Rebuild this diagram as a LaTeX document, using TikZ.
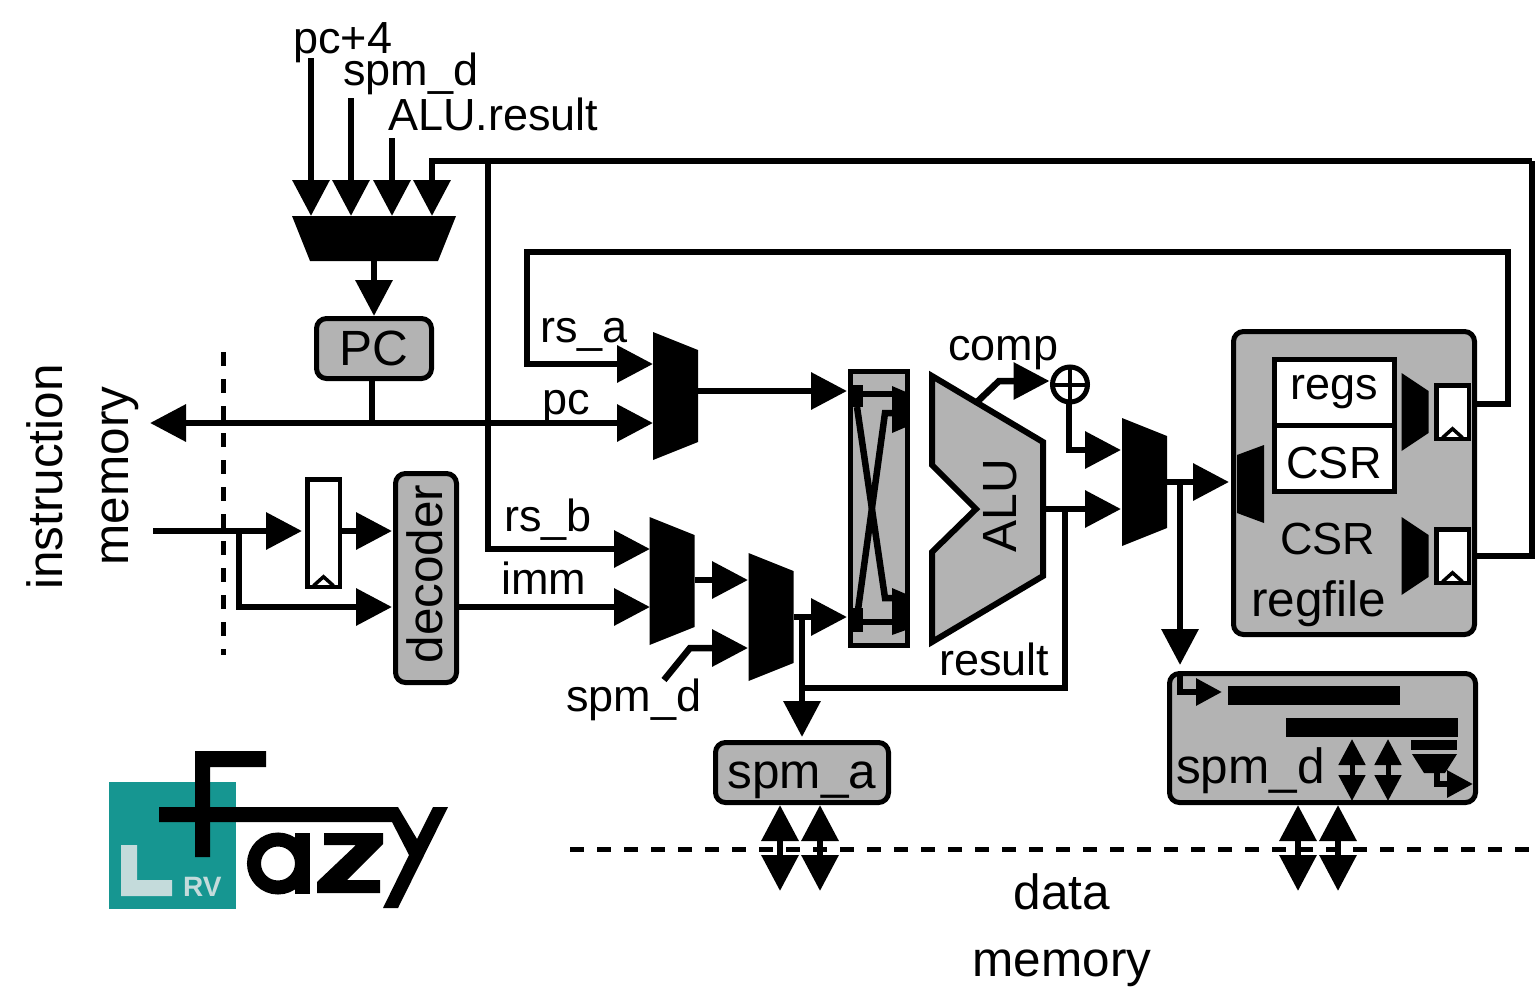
\documentclass[tikz,border=0pt]{standalone}
\usepackage{fontspec}
\setmainfont{Liberation Sans}
\usetikzlibrary{arrows.meta,positioning}
\definecolor{blockgray}{HTML}{B3B3B3}
\definecolor{logoteal}{HTML}{169691}
\definecolor{logopale}{HTML}{C4DBDB}

\begin{document}
\begin{tikzpicture}[x=1pt, y=-1pt,
    small/.style={anchor=base west, inner sep=0pt, font=\fontsize{45}{45}\selectfont},
    big/.style={anchor=base west, inner sep=0pt, font=\fontsize{49.5}{49.5}\selectfont},
    block/.style={rectangle, draw, line width=5pt, rounded corners=10pt, fill=blockgray, inner sep=0pt, font=\fontsize{49.5}{49.5}\selectfont},
    cell/.style={rectangle, draw, line width=5pt, fill=white, inner sep=0pt, minimum width=120pt, minimum height=66pt, font=\fontsize{45}{45}\selectfont},
    latch/.style={rectangle, draw, line width=4.5pt, fill=white, inner sep=0pt,
      path picture={\draw[line width=3.5pt] ([xshift=-10pt,yshift=1pt]path picture bounding box.south) -- ([yshift=10pt]path picture bounding box.south) -- ([xshift=10pt,yshift=1pt]path picture bounding box.south);}},
    muxright/.style={rectangle, inner sep=0pt, outer sep=0pt, minimum width=45pt, minimum height=128pt,
      path picture={\fill (path picture bounding box.north west) -- ([yshift=-18pt]path picture bounding box.north east) -- ([yshift=18pt]path picture bounding box.south east) -- (path picture bounding box.south west) -- cycle;}},
    muxthin/.style={muxright, minimum width=27pt, minimum height=78pt},
    muxleft/.style={rectangle, inner sep=0pt, outer sep=0pt, minimum width=27pt, minimum height=78pt,
      path picture={\fill (path picture bounding box.north east) -- ([yshift=-10pt]path picture bounding box.north west) -- ([yshift=10pt]path picture bounding box.south west) -- (path picture bounding box.south east) -- cycle;}},
    muxdown/.style={rectangle, inner sep=0pt, outer sep=0pt,
      path picture={\fill (path picture bounding box.north west) -- (path picture bounding box.north east) -- ([xshift=-#1]path picture bounding box.south east) -- ([xshift=#1]path picture bounding box.south west) -- cycle;}},
    wire/.style={line width=6.5pt},
    wirea/.style={wire, -{Triangle[length=36pt,width=36pt]}},
    wireb/.style={wire, {Triangle[length=36pt,width=36pt]}-{Triangle[length=36pt,width=36pt]}},
    wirec/.style={line width=6pt, -{Triangle[length=26pt,width=26pt]}},
    wired/.style={line width=5pt, {Triangle[length=26pt,width=26pt]}-{Triangle[length=26pt,width=26pt]}},
    cross/.style={line width=6.5pt},
    dashline/.style={line width=5pt, dash pattern=on 14pt off 13pt}]

\useasboundingbox (0,0) rectangle (1535,991);

% logo
\fill[logoteal] (109,782) rectangle (236,909);
\fill[logopale] (121,845) -- (137,845) -- (137,880) -- (172,880) -- (172,896) -- (121,896) -- cycle;
\node[anchor=base west, inner sep=0pt, text=logopale, font=\fontsize{28}{28}\selectfont\bfseries] (logorv) at (183,896) {RV};
\fill (195,751) -- (266,751) -- (266,767) -- (210,767) -- (210,857) -- (195,857) -- cycle;
\fill (159,807) -- (398,807) -- (417,839) -- (433,807) -- (448,807) -- (398,908) -- (383,908) -- (409,855) -- (392,822) -- (159,822) -- cycle;
\draw[line width=14pt] (278,863.5) circle (24);
\fill (295,833) rectangle (310,894);
\fill (324,833) -- (383,833) -- (383,844) -- (347,880) -- (380,880) -- (380,893) -- (317,893) -- (317,882) -- (356,845) -- (324,845) -- cycle;

% blocks
\node[muxdown=18pt, minimum width=164pt, minimum height=45pt] (muxpc) at (374,238.5) {};
\node[block, minimum width=115pt, minimum height=60pt] (pc) at (374,348.5) {PC};
\node[latch, minimum width=32.5pt, minimum height=107.5pt] (ireg) at (323.5,533) {};
\node[block, minimum width=61pt, minimum height=209pt] (dec) at (426,578) {};
\node[big, anchor=base, rotate=90] (ldec) at (442,574) {decoder};
\node[muxright] (muxa) at (675.5,396) {};
\node[muxright] (muxb) at (672,581) {};
\node[muxright] (muxc) at (771,617) {};
\node[muxright] (muxd) at (1144.5,482) {};

\node[rectangle, draw, line width=5pt, fill=blockgray, inner sep=0pt, minimum width=57pt, minimum height=274pt] (swap) at (879,508.5) {};
\fill (852,385) rectangle (863,407);
\fill (852,608) rectangle (863,632);
\draw[cross] (862,394) -- (892,394);
\draw[cross] (862,622) -- (892,622);
\draw[cross] (857,407) -- (885,598) -- (892,598);
\draw[cross] (858,610) -- (885,413) -- (892,413);
\fill (892,386) -- (906,392) -- (906,427) -- (892,433) -- cycle;
\fill (892,588) -- (906,594) -- (906,630) -- (892,635) -- cycle;

\draw[line width=6pt, fill=blockgray] (932,376) -- (1043,442) -- (1043,576) -- (932,642) -- (932,552) -- (976,509) -- (932,465) -- cycle;
\node[rotate=90, inner sep=0pt, font=\fontsize{48}{48}\selectfont] (alu) at (1000,505.5) {ALU};
\node[circle, draw, line width=5pt, inner sep=0pt, outer sep=0pt, minimum size=35pt] (xor) at (1070,384.5) {};
\draw[line width=4pt] (xor.north) -- (xor.south);
\draw[line width=4pt] (xor.west) -- (xor.east);

\node[block, minimum width=241pt, minimum height=303pt] (regfile) at (1354,483) {};
\node[cell] (regs) at (1334,392.5) {regs\hspace{3pt}};
\node[cell, text height=40pt, text depth=0pt] (csr) at (1334,458) {CSR\hspace{3pt}};
\node[muxleft] (muxw) at (1250.5,484) {};
\node[muxthin] (muxra) at (1415,412) {};
\node[muxthin] (muxrb) at (1415,556) {};
\node[latch, minimum width=32.5pt, minimum height=53.5pt] (rega) at (1452.5,412) {};
\node[latch, minimum width=32.5pt, minimum height=53.5pt] (regb) at (1452.5,556) {};

\node[block, minimum width=173pt, minimum height=60pt, text height=36pt, text depth=5pt] (spma) at (802,772.5) {spm\_a\hspace{3pt}};
\node[block, minimum width=306pt, minimum height=129pt] (spmd) at (1322.5,738) {};
\fill (1228,686) rectangle (1400,705);
\fill (1286,718) rectangle (1458,737);
\fill (1411,740) rectangle (1457,750);
\node[muxdown=12pt, minimum width=45pt, minimum height=19pt] (muxs) at (1434.5,763.5) {};

% labels
\node[small] (lpc) at (293,53) {pc+4};
\node[small] (lsd) at (343,85) {spm\_d};
\node[small] (lres) at (388,130) {ALU.result};
\node[small] (lrsa) at (540,342) {rs\_a};
\node[small] (lpcb) at (542,414) {pc};
\node[small] (lrsb) at (504,531) {rs\_b};
\node[small] (limm) at (501,594) {imm};
\node[small] (lsdb) at (566,711) {spm\_d};
\node[small] (lcomp) at (948,360) {comp};
\node[small] (lresb) at (939,675) {result};
\node[small] (lcsr) at (1280,554) {CSR};
\node[big] (lreg) at (1251,616) {regfile};
\node[big] (lsdc) at (1176,783) {spm\_d};
\node[big, anchor=base] (ldata) at (1062,909) {data};
\node[big, anchor=base] (lmem) at (1062,976) {memory};
\node[big, anchor=base, rotate=90] (linst) at (62,477) {instruction};
\node[big, anchor=base, rotate=90] (lmemb) at (128,476) {memory};

% free ends
\coordinate (inpc) at (311,58);
\coordinate (insd) at (351,98);
\coordinate (inres) at (392,138);
\coordinate (topbus) at (432,161);
\coordinate (topend) at (1532,161);
\coordinate (rsbtap) at (488,161);
\coordinate (rsbin) at (650,549);
\coordinate (immin) at (650,607);
\coordinate (loopa) at (527,252);
\coordinate (loopb) at (1508,252);
\coordinate (loopout) at (1508,404);
\coordinate (rsain) at (653,364);
\coordinate (pcin) at (653,423);
\coordinate (pctap) at (372,423);
\coordinate (imem) at (150,423);
\coordinate (dashtop) at (223,352);
\coordinate (dashbot) at (223,655);
\coordinate (instr) at (153,531);
\coordinate (insttap) at (239,531);
\coordinate (decin) at (239,607);
\coordinate (swapa) at (847,391);
\coordinate (swapb) at (847,617);
\coordinate (sdstart) at (664,680);
\coordinate (sdbend) at (690,648);
\coordinate (sdend) at (748,648);
\coordinate (mcin) at (748,580);
\coordinate (spmtap) at (802,617);
\coordinate (restap) at (1065,509);
\coordinate (resbot) at (1065,688);
\coordinate (spmbot) at (802,688);
\coordinate (aluout) at (1045,509);
\coordinate (mdinb) at (1121,509);
\coordinate (mdina) at (1121,450);
\coordinate (xorbot) at (1069,450);
\coordinate (cmpa) at (977,402);
\coordinate (cmpb) at (999,381);
\coordinate (mdout) at (1180,482);
\coordinate (dmemtop) at (570,849);
\coordinate (dmemend) at (1535,849);

% wires
\draw[wirea] (inpc) -- (inpc |- muxpc.north);
\draw[wirea] (insd) -- (insd |- muxpc.north);
\draw[wirea] (inres) -- (inres |- muxpc.north);
\draw[wirea] (topend) -- (topbus) -- (topbus |- muxpc.north);
\draw[wire] (regb.east -| regfile.east) -- (topend |- regb.east) -- (topend);
\draw[wirea] (rsbtap) -- (rsbtap |- rsbin) -- (rsbin);
\draw[wirea] (muxpc.south) -- (pc.north);
\draw[wirea] (loopout -| regfile.east) -- (loopout) -- (loopb) -- (loopa) -- (loopa |- rsain) -- (rsain);
\draw[wire] (pc.south -| pctap) -- (pctap);
\draw[wirea] (pctap) -- (imem);
\draw[wirea] (pctap) -- (pcin);
\draw[dashline] (dashtop) -- (dashbot);
\draw[wirea, shorten >=3pt] (instr) -- (instr -| ireg.west);
\draw[wirea, shorten >=1pt] (ireg.east |- instr) -- (dec.west |- instr);
\draw[wirea, shorten >=1pt] (insttap) -- (decin) -- (dec.west |- decin);
\draw[wirea] (dec.east |- immin) -- (immin);
\draw[wirea] (muxa.east |- swapa) -- (swapa);
\draw[wirea] (muxb.east |- mcin) -- (mcin);
\draw[wirea] (sdstart) -- (sdbend) -- (sdend);
\draw[wirea] (muxc.east |- swapb) -- (swapb);
\draw[wirea, shorten >=3pt] (spmtap) -- (spma.north -| spmtap);
\draw[wire] (spmbot) -- (resbot) -- (restap);
\draw[wirea] (aluout) -- (mdinb);
\draw[wirea, shorten >=3pt] (cmpa) -- (cmpb) -- (xor.west |- cmpb);
\draw[wirea] (xor.south -| xorbot) -- (xorbot) -- (mdina);
\draw[wirea, shorten >=2pt] (muxd.east) -- (regfile.west |- muxd.east);
\draw[wirea, shorten >=6pt] (mdout) -- (mdout |- spmd.north);
\draw[wirec] (1180,675) -- (1180,692) -- (1222,692);
\draw[wired] (1352,739) -- (1352,801);
\draw[wired] (1388,739) -- (1388,801);
\draw[wirec] (1437,773) -- (1437,784) -- (1473,784);
\draw[dashline] (dmemtop) -- (dmemend);
\foreach \x in {780,820,1298,1338} {
  \draw[wireb] (\x,805) -- (\x,891);
}
\end{tikzpicture}
\end{document}
